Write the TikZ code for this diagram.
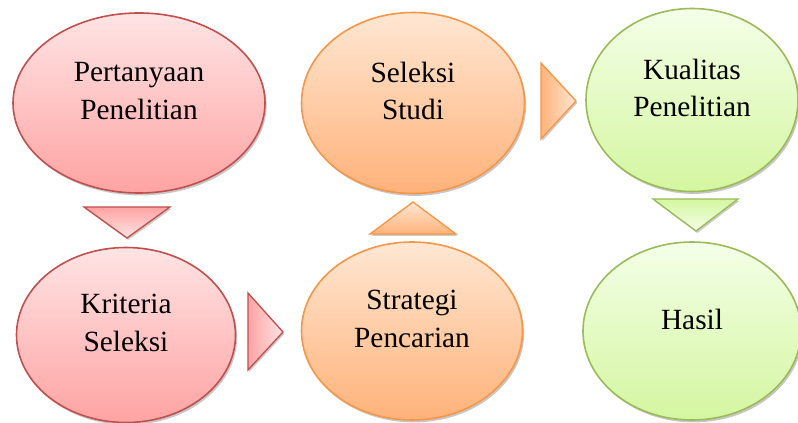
\documentclass[tikz,border=0pt]{standalone}
\usepackage{fontspec}
\setmainfont{Liberation Serif}
\usetikzlibrary{shapes.geometric,shadows,calc}
\definecolor{redline}{HTML}{C0504D}
\definecolor{redtop}{HTML}{FFE4E4}
\definecolor{redbot}{HTML}{FFA3A3}
\definecolor{orgline}{HTML}{F79646}
\definecolor{orgtop}{HTML}{FFE7D3}
\definecolor{orgbot}{HTML}{FFB27A}
\definecolor{grnline}{HTML}{9BBB59}
\definecolor{grntop}{HTML}{F4FFE8}
\definecolor{grnbot}{HTML}{D4F6A0}

\begin{document}
\begin{tikzpicture}[x=0.75pt,y=-0.75pt,
  bubble/.style={ellipse,draw=#1line,line width=1.2pt,top color=#1top,bottom color=#1bot,
    drop shadow={shadow xshift=1.2pt,shadow yshift=-1.8pt,opacity=0.22,fill=black}},
  tri/.style={draw=#1line,line width=1pt,line join=miter,
    drop shadow={shadow xshift=1pt,shadow yshift=-1.5pt,opacity=0.2,fill=black}},
  txt/.style={align=center,font=\fontsize{22}{28}\selectfont}]
\useasboundingbox (0,0) rectangle (798,423);
\foreach \nm/\cx/\cy/\w/\h/\col/\lab in {
  tanya/139/103/252/180/red/{Pertanyaan\\Penelitian},
  kriteria/126/335/219/175/red/{Kriteria\\Seleksi},
  strategi/412/331/221/178/org/{Strategi\\Pencarian},
  seleksi/413/103/223/181/org/{Seleksi\\Studi},
  kualitas/692/100/212/183/grn/{Kualitas\\Penelitian},
  hasil/692/331/218/178/grn/{Hasil}}{
  \node[bubble=\col,minimum width={0.75pt*\w},minimum height={0.75pt*\h}] (\nm) at (\cx,\cy) {};
  \node[txt] (\nm T) at ($(\nm)+(0,-12)$) {\lab};}
% arrows between the steps
\draw[tri=red,top color=redbot,bottom color=redtop] (84,207) -- (170,207) -- (127,238) -- cycle;
\draw[tri=red,left color=redbot,right color=redtop] (248,293) -- (283,332) -- (248,370) -- cycle;
\draw[tri=org,bottom color=orgbot,top color=orgtop] (370,234) -- (456,234) -- (413,202) -- cycle;
\draw[tri=org,left color=orgbot,right color=orgtop] (541,63) -- (576,101) -- (541,139) -- cycle;
\draw[tri=grn,top color=grnbot,bottom color=grntop] (653,199) -- (738,199) -- (696,231) -- cycle;
\end{tikzpicture}
\end{document}
